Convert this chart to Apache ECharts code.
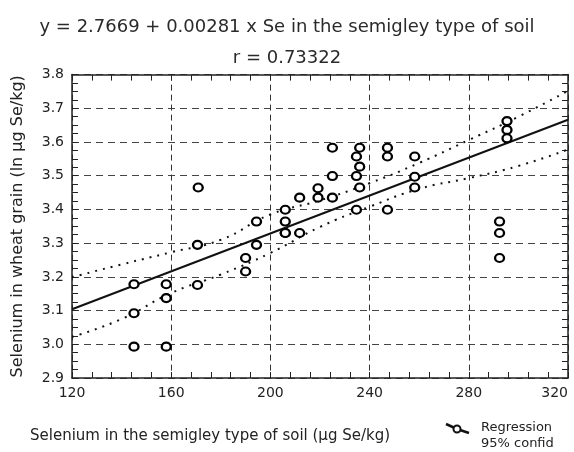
<!DOCTYPE html>
<html><head><meta charset="utf-8">
<script src="https://cdn.jsdelivr.net/npm/echarts@6/dist/echarts.min.js"></script>
<style>html,body{margin:0;padding:0;background:#fff}#c{width:574px;height:452px}</style>
</head><body><div id="c"></div>
<script>
// Observed soil Se (x) and ln grain Se (y)
const soilSe = [145,145,145,158,158,158,170.6,170.6,170.9,190,190,194.4,194.4,206,206,206,206,211.8,211.8,219.2,219.2,225,225,225,234.7,236,234.7,236,236,234.7,247.2,247.2,247.2,258.2,258.2,258.2,295.4,295.4,295.4,292.4,292.4,292.4];
const grainSe = [3.178,3.092,2.993,3.178,3.137,2.993,3.295,3.176,3.465,3.256,3.216,3.295,3.364,3.330,3.364,3.399,3.330,3.435,3.330,3.463,3.435,3.583,3.499,3.435,3.557,3.583,3.499,3.527,3.465,3.399,3.583,3.557,3.399,3.557,3.497,3.465,3.662,3.636,3.611,3.364,3.330,3.256];
// Regression line end points
const regX = [120, 320];
const regY = [3.104, 3.666];
// 95% confidence band
const bandX = [120,140,160,180,200,220,240,260,280,300,320];
const bandUpper = [3.199,3.237,3.273,3.310,3.385,3.427,3.478,3.538,3.606,3.675,3.752];
const bandLower = [3.022,3.075,3.152,3.207,3.271,3.348,3.408,3.461,3.493,3.529,3.578];
const xTicks = [120,160,200,240,280,320];
const yTicks = [2.9,3.0,3.1,3.2,3.3,3.4,3.5,3.6,3.7,3.8];

const FONT = 'DejaVu Sans';
const zip = (a,b) => a.map((v,i)=>[v,b[i]]);
const chart = echarts.init(document.getElementById('c'), null, {renderer:'canvas'});
const axisLine = {show:true, lineStyle:{color:'#222', width:1.5}};
const tickX = {show:true, inside:true, length:6, lineStyle:{color:'#222', width:1}};
const minorX = {show:true, splitNumber:5, length:6, lineStyle:{color:'#222', width:1}};
const minorY = {show:true, splitNumber:4, length:6, lineStyle:{color:'#222', width:1}};
chart.setOption({
  animation:false,
  backgroundColor:'#fff',
  title:{text:'y = 2.7669 + 0.00281 x Se in the semigley type of soil\nr = 0.73322', left:'center', top:7,
    textStyle:{fontFamily:FONT, fontSize:18, fontWeight:'normal', color:'#2a2a2a', lineHeight:31}},
  grid:{left:72, right:6, top:74.6, bottom:74, containLabel:false},
  xAxis:[
    {type:'value', min:xTicks[0], max:xTicks[xTicks.length-1], interval:40, position:'bottom',
     axisLine, axisTick:tickX, minorTick:minorX,
     axisLabel:{margin:8, fontFamily:FONT, fontSize:14, color:'#222', alignMaxLabel:'right'},
     splitLine:{show:true, lineStyle:{color:'#333', width:1, type:[6,4]}}},
    {type:'value', min:xTicks[0], max:xTicks[xTicks.length-1], interval:40, position:'top',
     axisLine, axisTick:tickX, minorTick:minorX, axisLabel:{show:false}, splitLine:{show:false}}
  ],
  yAxis:[
    {type:'value', min:yTicks[0], max:yTicks[yTicks.length-1], interval:0.1, position:'left',
     name:'Selenium in wheat grain (ln µg Se/kg)', nameLocation:'middle', nameGap:46,
     nameTextStyle:{fontFamily:FONT, fontSize:16, color:'#222'},
     axisLine, axisTick:tickX, minorTick:minorY,
     axisLabel:{margin:8, fontFamily:FONT, fontSize:14, color:'#222', formatter:v=>v.toFixed(1)},
     splitLine:{show:true, lineStyle:{color:'#444', width:1, type:[7,5]}}},
    {type:'value', min:yTicks[0], max:yTicks[yTicks.length-1], interval:0.1, position:'right',
     axisLine, axisTick:tickX, minorTick:minorY, axisLabel:{show:false}, splitLine:{show:false}}
  ],
  series:[
    {type:'line', data:zip(bandX,bandUpper), smooth:true, symbol:'none', xAxisIndex:0, yAxisIndex:0,
     lineStyle:{color:'#111', width:2, type:[2,6]}, z:2},
    {type:'line', data:zip(bandX,bandLower), smooth:true, symbol:'none', xAxisIndex:0, yAxisIndex:0,
     lineStyle:{color:'#111', width:2, type:[2,6]}, z:2},
    {type:'line', data:zip(regX,regY), symbol:'none', xAxisIndex:0, yAxisIndex:0,
     lineStyle:{color:'#111', width:2}, z:3},
    {type:'scatter', data:zip(soilSe,grainSe), symbol:'circle', symbolSize:[9,8], xAxisIndex:0, yAxisIndex:0,
     itemStyle:{color:'#fff', borderColor:'#000', borderWidth:2.2, opacity:1}, z:4}
  ],
  graphic:[
    {type:'text', left:30, top:429, style:{text:'Selenium in the semigley type of soil (µg Se/kg)', font:'15px "DejaVu Sans"', fill:'#222'}},
    {type:'polyline', shape:{points:[[446,424],[457,429],[469,433]]}, style:{stroke:'#111', lineWidth:2.5, fill:null}},
    {type:'circle', shape:{cx:457, cy:429, r:3.5}, style:{stroke:'#111', lineWidth:2, fill:'#fff'}},
    {type:'text', left:481, top:420, style:{text:'Regression\n95% confid', font:'13px "DejaVu Sans"', fill:'#222', lineHeight:16}}
  ]
});
</script></body></html>
